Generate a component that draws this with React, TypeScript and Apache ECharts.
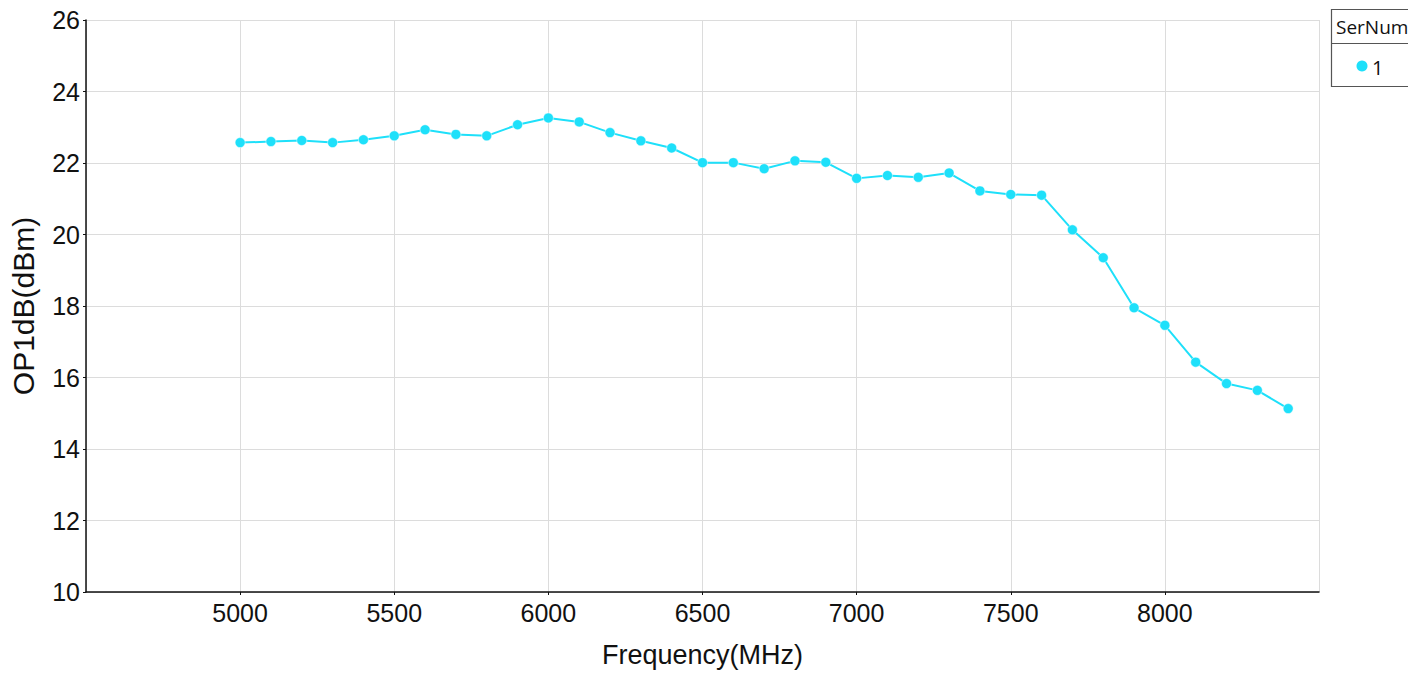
import React, { useEffect, useRef } from "react";
import * as echarts from "echarts";

const frequencies = [5000, 5100, 5200, 5300, 5400, 5500, 5600, 5700, 5800, 5900, 6000, 6100, 6200, 6300, 6400, 6500, 6600, 6700, 6800, 6900, 7000, 7100, 7200, 7300, 7400, 7500, 7600, 7700, 7800, 7900, 8000, 8100, 8200, 8300, 8400];
const op1db = [22.57, 22.6, 22.63, 22.57, 22.65, 22.76, 22.93, 22.8, 22.76, 23.07, 23.26, 23.15, 22.85, 22.62, 22.42, 22.01, 22.01, 21.84, 22.06, 22.02, 21.57, 21.65, 21.6, 21.72, 21.22, 21.12, 21.1, 20.13, 19.35, 17.95, 17.46, 16.43, 15.83, 15.64, 15.13];
const seriesName = "1";
const legendTitle = "SerNum";
const xName = "Frequency(MHz)";
const yName = "OP1dB(dBm)";

const LINE_COLOR = "#1ee0fa";
const FONT = "'Liberation Sans', Arial, sans-serif";

export default function App() {
  const ref = useRef<HTMLDivElement>(null);
  useEffect(() => {
    if (!ref.current) return;
    const chart = echarts.init(ref.current, null, { renderer: "svg" });
    const data = frequencies.map((f, i) => [f, op1db[i]]);
    chart.setOption({
      animation: false,
      backgroundColor: "#ffffff",
      textStyle: { fontFamily: FONT },
      grid: { left: 86, right: 89, top: 20, bottom: 81, show: false },
      xAxis: {
        type: "value",
        min: 4500,
        max: 8500,
        interval: 500,
        name: xName,
        nameLocation: "middle",
        nameGap: 49,
        nameTextStyle: { fontSize: 27, color: "#111", fontFamily: FONT },
        axisLine: { show: true, onZero: false, lineStyle: { color: "#111", width: 1.5 } },
        axisTick: { show: true, length: 3, lineStyle: { color: "#111" } },
        axisLabel: {
          fontSize: 25,
          color: "#111",
          margin: 8,
          showMinLabel: false,
          showMaxLabel: false,
          fontFamily: FONT,
          formatter: (v: number) => String(v),
        },
        splitLine: { show: true, lineStyle: { color: "#dcdcdc", width: 1 } },
      },
      yAxis: {
        type: "value",
        min: 10,
        max: 26,
        interval: 2,
        name: yName,
        nameLocation: "middle",
        nameGap: 48,
        nameTextStyle: { fontSize: 30, color: "#111", fontFamily: FONT },
        axisLine: { show: true, onZero: false, lineStyle: { color: "#111", width: 1.5 } },
        axisTick: { show: true, length: 3, lineStyle: { color: "#111" } },
        axisLabel: { fontSize: 25, color: "#111", margin: 6, fontFamily: FONT },
        splitLine: { show: true, lineStyle: { color: "#dcdcdc", width: 1 } },
      },
      series: [
        {
          name: seriesName,
          type: "line",
          data,
          symbol: "circle",
          symbolSize: 10,
          showSymbol: true,
          itemStyle: { color: LINE_COLOR, borderColor: "#ffffff", borderWidth: 0.5 },
          lineStyle: { color: LINE_COLOR, width: 2 },
        },
      ],
      graphic: [
        {
          type: "rect",
          shape: { x: 1331.5, y: 9.5, width: 90, height: 77 },
          style: { fill: "#ffffff", stroke: "#555", lineWidth: 1.2 },
        },
        {
          type: "line",
          shape: { x1: 1331.5, y1: 43.5, x2: 1420, y2: 43.5 },
          style: { stroke: "#555", lineWidth: 1.2 },
        },
        {
          type: "text",
          x: 1336,
          y: 27,
          style: {
            text: legendTitle,
            fontSize: 19,
            fill: "#111",
            fontFamily: "'Open Sans', 'Noto Sans', sans-serif",
            verticalAlign: "middle",
          },
        },
        {
          type: "circle",
          shape: { cx: 1362, cy: 66, r: 5.5 },
          style: { fill: LINE_COLOR },
        },
        {
          type: "text",
          x: 1372,
          y: 67,
          style: {
            text: seriesName,
            fontSize: 20,
            fill: "#111",
            fontFamily: "'Open Sans', 'Noto Sans', sans-serif",
            verticalAlign: "middle",
          },
        },
      ],
    });
    return () => chart.dispose();
  }, []);
  return (
    <div
      ref={ref}
      style={{ position: "fixed", left: 0, top: 0, width: 1408, height: 673 }}
    />
  );
}
